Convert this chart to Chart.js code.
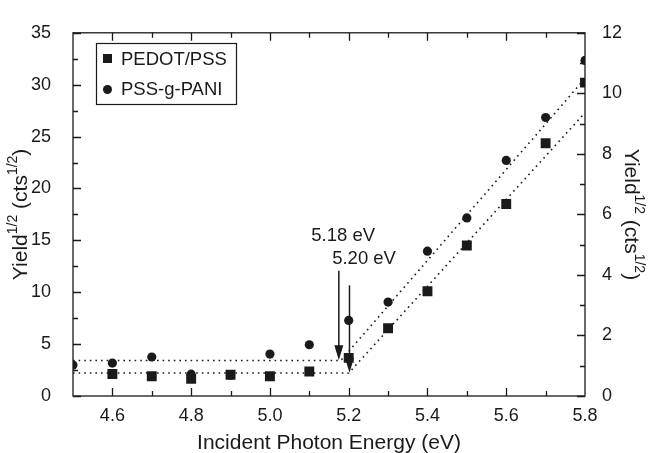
<!DOCTYPE html>
<html>
<head>
<meta charset="utf-8">
<script src="https://cdn.jsdelivr.net/npm/chart.js@4"></script>
<style>
  html, body { margin: 0; padding: 0; background: #fff; }
  #wrap { width: 649px; height: 453px; }
</style>
</head>
<body>
<div id="wrap"><canvas id="yieldChart" width="649" height="453"></canvas></div>
<script>
// photon energy (eV) and sqrt(yield)
const energy = [4.5, 4.6, 4.7, 4.8, 4.9, 5.0, 5.1, 5.2, 5.3, 5.4, 5.5, 5.6, 5.7, 5.8];
const pedotYield = [null, 2.12, 1.9, 1.65, 2.05, 1.9, 2.36, 3.67, 6.53, 10.1, 14.5, 18.5, 24.35, 30.2];
const paniYield = [2.98, 3.17, 3.76, 2.1, 2.0, 4.04, 4.94, 7.28, 9.05, 13.96, 17.16, 22.7, 26.84, 32.34];

// dotted fit lines (baseline + linear part)
const pedotFitX = [4.5, 5.2, 5.8];
const pedotFitY = [2.21, 2.21, 27.3];
const paniFitX = [4.5, 5.18, 5.8];
const paniFitY = [3.42, 3.42, 30.6];

// onset arrows
const arrowX = [5.175, 5.202];
const arrowTop = [12.06, 10.66];
const arrowTip = [3.45, 2.25];
const arrowLabels = ['5.18 eV', '5.20 eV'];
const arrowLabelY = [14.93, 12.69];
const arrowLabelX = [5.186, 5.239];

const seriesNames = ['PEDOT/PSS', 'PSS-g-PANI'];
const xTicks = { min: 4.5, max: 5.8, step: 0.1 };
const yLeft = { min: 0, max: 35, step: 5 };
const yRight = { min: 0, max: 12, step: 2 };

const INK = '#1a1a1a';
const FONT = '"Liberation Sans", Arial, Helvetica, sans-serif';

function pts(xs, ys) {
  return xs.map((v, i) => ({ x: v, y: ys[i] }));
}

// superscript title: Yield^1/2 (cts^1/2)
function drawSupTitle(ctx, cx, cy, rot) {
  const parts = [
    ['Yield', 21, 0], ['1/2', 14, -8], [' (cts', 21, 0], ['1/2', 14, -8], [')', 21, 0]
  ];
  ctx.save();
  ctx.translate(cx, cy);
  ctx.rotate(rot);
  ctx.textAlign = 'left';
  ctx.textBaseline = 'middle';
  let total = 0;
  parts.forEach(p => { ctx.font = p[1] + 'px ' + FONT; total += ctx.measureText(p[0]).width; });
  let x = -total / 2;
  ctx.fillStyle = INK;
  parts.forEach(p => {
    ctx.font = p[1] + 'px ' + FONT;
    ctx.fillText(p[0], x, p[2] + 1);
    x += ctx.measureText(p[0]).width;
  });
  ctx.restore();
}

const decorations = {
  id: 'decorations',
  afterDatasetsDraw(chart) {
    const { ctx, chartArea: a, scales } = chart;
    const x = scales.x, y = scales.y, y2 = scales.y2;
    ctx.save();
    ctx.strokeStyle = INK;
    ctx.lineWidth = 1.3;

    // frame
    ctx.strokeRect(a.left, a.top, a.right - a.left, a.bottom - a.top);

    // inward ticks
    ctx.beginPath();
    for (let i = 0; i <= Math.round((xTicks.max - xTicks.min) / xTicks.step); i++) {
      const v = xTicks.min + i * xTicks.step;
      const px = Math.round(x.getPixelForValue(v)) + 0.5;
      const major = Math.round(v * 10) % 2 === 0;
      const len = major ? 8 : 5;
      if (px <= a.left + 1 || px >= a.right - 1) continue;
      ctx.moveTo(px, a.bottom); ctx.lineTo(px, a.bottom - len);
      ctx.moveTo(px, a.top); ctx.lineTo(px, a.top + len);
    }
    for (let v = yLeft.min; v <= yLeft.max; v += yLeft.step / 2) {
      const py = Math.round(y.getPixelForValue(v)) + 0.5;
      const len = (v % yLeft.step === 0) ? 8 : 5;
      ctx.moveTo(a.left, py); ctx.lineTo(a.left + len, py);
    }
    for (let v = yRight.min; v <= yRight.max; v += yRight.step / 2) {
      const py = Math.round(y2.getPixelForValue(v)) + 0.5;
      const len = (v % yRight.step === 0) ? 8 : 5;
      ctx.moveTo(a.right, py); ctx.lineTo(a.right - len, py);
    }
    ctx.stroke();

    // arrows
    ctx.fillStyle = INK;
    ctx.lineWidth = 1.5;
    arrowX.forEach((v, i) => {
      const px = x.getPixelForValue(v);
      const top = y.getPixelForValue(arrowTop[i]);
      const tip = y.getPixelForValue(arrowTip[i]);
      ctx.beginPath();
      ctx.moveTo(px, top); ctx.lineTo(px, tip - 10);
      ctx.stroke();
      ctx.beginPath();
      ctx.moveTo(px, tip);
      ctx.lineTo(px - 4.5, tip - 15);
      ctx.lineTo(px + 4.5, tip - 15);
      ctx.closePath();
      ctx.fill();
    });

    // arrow labels
    ctx.font = '18.5px ' + FONT;
    ctx.textAlign = 'center';
    ctx.textBaseline = 'alphabetic';
    arrowLabels.forEach((t, i) => {
      ctx.fillText(t, x.getPixelForValue(arrowLabelX[i]), y.getPixelForValue(arrowLabelY[i]));
    });

    // legend
    const lx = 96, ly = 43, lw = 140, lh = 61;
    ctx.lineWidth = 1.2;
    ctx.strokeRect(lx + 0.5, ly + 0.5, lw, lh);
    ctx.fillRect(lx + 7, ly + 11, 9, 9);
    ctx.beginPath();
    ctx.arc(lx + 11.5, ly + 46.5, 4.5, 0, Math.PI * 2);
    ctx.fill();
    ctx.font = '18.5px ' + FONT;
    ctx.textAlign = 'left';
    ctx.textBaseline = 'middle';
    ctx.fillText(seriesNames[0], lx + 25, ly + 17);
    ctx.fillText(seriesNames[1], lx + 25, ly + 47);

    // axis titles
    ctx.font = '21px ' + FONT;
    ctx.textAlign = 'center';
    ctx.textBaseline = 'alphabetic';
    ctx.fillText('Incident Photon Energy (eV)', (a.left + a.right) / 2, 449);
    const cy = (a.top + a.bottom) / 2;
    drawSupTitle(ctx, 20, cy, -Math.PI / 2);
    drawSupTitle(ctx, 632, cy, Math.PI / 2);
    ctx.restore();
  }
};

const ctx = document.getElementById('yieldChart');

new Chart(ctx, {
  type: 'scatter',
  data: {
    datasets: [
      {
        label: seriesNames[0],
        data: pts(energy, pedotYield),
        pointStyle: 'rect',
        pointRadius: 7,
        backgroundColor: INK,
        borderColor: INK,
        borderWidth: 0,
        order: 0
      },
      {
        label: seriesNames[1],
        data: pts(energy, paniYield),
        pointStyle: 'circle',
        pointRadius: 4.6,
        backgroundColor: INK,
        borderColor: INK,
        borderWidth: 0,
        order: 0
      },
      {
        label: 'fit1',
        type: 'line',
        data: pts(pedotFitX, pedotFitY),
        borderColor: INK,
        borderWidth: 1.6,
        borderDash: [1.6, 4],
        pointRadius: 0,
        fill: false,
        order: 1
      },
      {
        label: 'fit2',
        type: 'line',
        data: pts(paniFitX, paniFitY),
        borderColor: INK,
        borderWidth: 1.6,
        borderDash: [1.6, 4],
        pointRadius: 0,
        fill: false,
        order: 1
      }
    ]
  },
  options: {
    responsive: false,
    devicePixelRatio: 1,
    animation: false,
    layout: { padding: { top: 21, left: 0, right: 0, bottom: 0 } },
    plugins: { legend: { display: false }, tooltip: { enabled: false } },
    scales: {
      x: {
        type: 'linear',
        min: xTicks.min,
        max: xTicks.max,
        grid: { display: false, drawTicks: false },
        border: { display: false },
        ticks: {
          stepSize: xTicks.step,
          padding: 9,
          color: INK,
          font: { family: FONT, size: 18 },
          maxRotation: 0,
          autoSkip: false,
          callback: v => (Math.round(v * 10) % 2 === 0 ? v.toFixed(1) : '')
        },
        afterFit: s => { s.height = 57; }
      },
      y: {
        position: 'left',
        min: yLeft.min,
        max: yLeft.max,
        grid: { display: false, drawTicks: false },
        border: { display: false },
        ticks: { stepSize: yLeft.step, padding: 22, color: INK, font: { family: FONT, size: 18 } },
        afterFit: s => { s.width = 73; }
      },
      y2: {
        position: 'right',
        min: yRight.min,
        max: yRight.max,
        grid: { display: false, drawTicks: false },
        border: { display: false },
        ticks: { stepSize: yRight.step, padding: 17, color: INK, font: { family: FONT, size: 18 } },
        afterFit: s => { s.width = 64; }
      }
    }
  },
  plugins: [decorations]
});
</script>
</body>
</html>
